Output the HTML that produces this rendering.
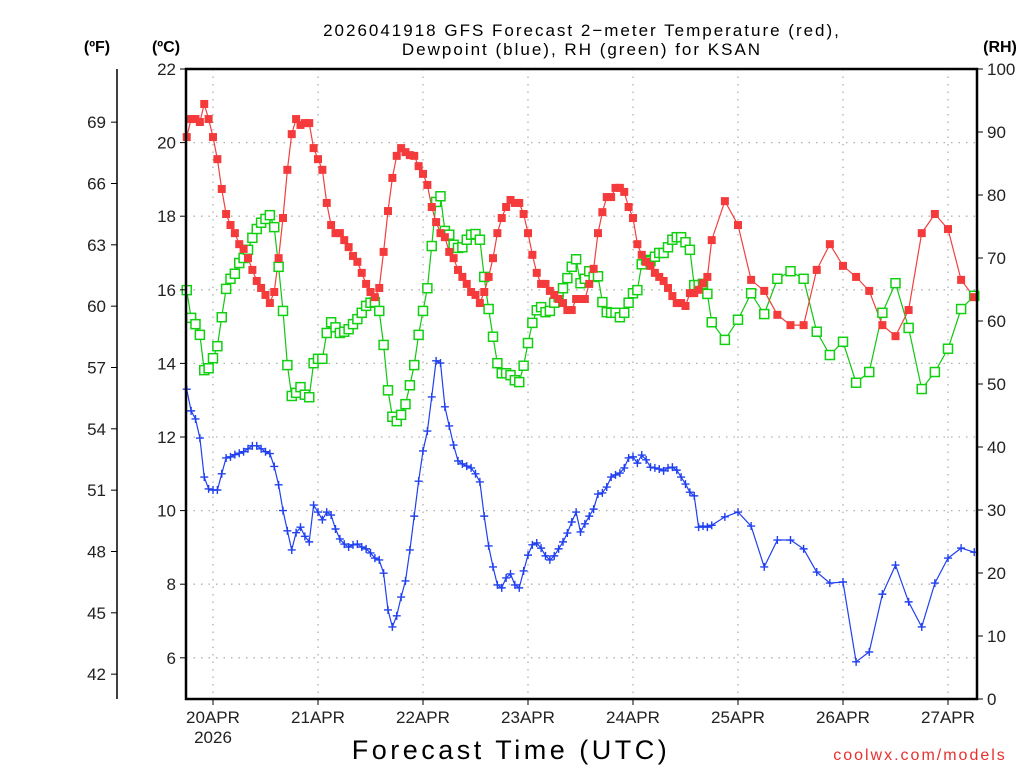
<!DOCTYPE html>
<html><head><meta charset="utf-8"><style>
body{margin:0;background:#fff;}
svg{display:block;font-family:"Liberation Sans",sans-serif;}
</style></head><body>
<svg id="chart" width="1024" height="768" viewBox="0 0 1024 768" xmlns="http://www.w3.org/2000/svg">
<rect x="0" y="0" width="1024" height="768" fill="#fff"/>
<g id="grid"></g>
<g id="series"></g>
<g id="axes"></g>
<text x="582" y="36" text-anchor="middle" font-size="17" letter-spacing="2" fill="#000">2026041918 GFS Forecast 2−meter Temperature (red),</text>
<text x="582" y="55" text-anchor="middle" font-size="17" letter-spacing="2" fill="#000">Dewpoint (blue), RH (green) for KSAN</text>
<text x="97" y="52" text-anchor="middle" font-size="16" font-weight="bold">(ºF)</text>
<text x="166" y="52" text-anchor="middle" font-size="16" font-weight="bold">(ºC)</text>
<text x="1000" y="52" text-anchor="middle" font-size="16" font-weight="bold">(RH)</text>
<text x="511" y="759" text-anchor="middle" font-size="27" letter-spacing="3.5">Forecast Time (UTC)</text>
<text x="920" y="760" text-anchor="middle" font-size="16" fill="#e83030" letter-spacing="2">coolwx.com/models</text>
</svg>
<script>
const hours=[-6,-5,-4,-3,-2,-1,0,1,2,3,4,5,6,7,8,9,10,11,12,13,14,15,16,17,18,19,20,21,22,23,24,25,26,27,28,29,30,31,32,33,34,35,36,37,38,39,40,41,42,43,44,45,46,47,48,49,50,51,52,53,54,55,56,57,58,59,60,61,62,63,64,65,66,67,68,69,70,71,72,73,74,75,76,77,78,79,80,81,82,83,84,85,86,87,88,89,90,91,92,93,94,95,96,97,98,99,100,101,102,103,104,105,106,107,108,109,110,111,112,113,114,117,120,123,126,129,132,135,138,141,144,147,150,153,156,159,162,165,168,171,174];
const tempC=[20.15,20.64,20.64,20.56,21.05,20.64,20.15,19.55,18.74,18.06,17.76,17.54,17.24,17.11,16.86,16.54,16.24,16.05,15.86,15.64,15.94,16.86,17.95,19.26,20.23,20.64,20.48,20.53,20.53,19.85,19.55,19.26,18.36,17.76,17.54,17.54,17.35,17.16,16.92,16.76,16.46,16.16,15.94,15.80,16.05,17.03,18.14,19.04,19.64,19.85,19.74,19.66,19.64,19.36,19.15,18.85,18.25,17.84,17.54,17.43,17.03,16.86,16.54,16.35,16.16,15.94,15.86,15.64,15.94,16.35,16.86,17.54,17.95,18.25,18.44,18.36,18.36,18.06,17.54,16.95,16.46,16.16,16.16,15.97,15.86,15.75,15.64,15.45,15.45,15.75,15.75,15.75,16.16,16.57,17.54,18.11,18.52,18.52,18.77,18.77,18.66,18.25,17.95,17.24,16.95,16.76,16.65,16.46,16.35,16.24,16.05,15.83,15.64,15.64,15.56,15.91,15.91,16.0,16.18,16.35,17.35,18.41,17.76,16.27,15.97,15.32,15.04,15.04,16.54,17.24,16.65,16.35,15.97,15.04,14.74,15.45,17.54,18.06,17.65,16.27,15.80];
const dewC=[13.30,12.71,12.49,11.97,10.91,10.59,10.56,10.56,11.0,11.43,11.46,11.52,11.56,11.6,11.68,11.76,11.76,11.68,11.6,11.55,11.2,10.7,10.0,9.45,8.93,9.4,9.55,9.3,9.15,10.15,9.96,9.75,9.96,9.88,9.50,9.23,9.09,9.01,9.07,9.09,9.01,8.96,8.85,8.71,8.66,8.30,7.30,6.84,7.14,7.65,8.09,8.93,9.85,10.80,11.62,12.16,13.09,14.07,14.01,12.82,12.30,11.78,11.35,11.27,11.21,11.16,11.0,10.78,9.85,9.04,8.47,7.98,7.90,8.17,8.28,7.98,7.90,8.36,8.79,9.07,9.12,8.98,8.77,8.66,8.77,8.96,9.15,9.39,9.69,9.96,9.42,9.64,9.85,10.04,10.45,10.48,10.64,10.91,10.97,11.02,11.16,11.43,11.46,11.29,11.51,11.38,11.18,11.16,11.13,11.08,11.16,11.18,11.10,10.91,10.72,10.5,10.40,9.55,9.58,9.55,9.6,9.83,9.96,9.58,8.47,9.20,9.20,8.96,8.33,8.03,8.06,5.89,6.16,7.73,8.52,7.52,6.84,8.03,8.71,8.98,8.87];
const rh=[64.9,60.5,59.5,57.8,52.2,52.5,54.1,56.0,60.6,65.1,66.7,67.5,69.2,70.0,71.3,73.2,74.6,75.6,76.2,76.8,74.9,68.6,61.6,53.0,48.1,48.6,49.5,48.3,47.9,53.3,54.0,54.0,58.1,59.8,59.0,58.1,58.3,58.7,59.5,60.3,61.3,62.4,62.9,63.0,61.6,56.2,49.0,44.8,44.1,45.1,46.8,49.8,53.0,57.8,61.6,65.2,71.9,78.9,79.8,74.3,73.7,72.1,71.6,71.7,72.9,73.7,73.8,72.9,67.0,61.9,57.5,53.3,51.7,51.7,51.4,50.6,50.3,52.9,56.5,59.7,61.7,62.2,61.4,61.6,62.9,63.8,65.2,66.8,68.6,69.8,66.0,66.7,67.9,67.0,67.1,63.0,61.4,61.3,61.3,60.6,61.3,62.9,64.4,64.9,69.0,69.7,69.5,70.2,70.8,70.8,71.7,72.9,73.3,73.3,72.5,71.3,65.7,65.7,65.9,64.3,59.8,57.0,60.2,64.4,61.1,66.7,67.9,66.7,58.3,54.6,56.7,50.2,51.9,61.3,66.0,58.9,49.2,51.9,55.6,61.9,64.0];
const dayLabels=["20APR","21APR","22APR","23APR","24APR","25APR","26APR","27APR"];
const celsiusTicks=[6,8,10,12,14,16,18,20,22];
const fahrenheitTicks=[42,45,48,51,54,57,60,63,66,69];
const rhTicks=[0,10,20,30,40,50,60,70,80,90,100];

const NS="http://www.w3.org/2000/svg";
const L=186,R=977,T=69,B=699;
const hMin=-6.17,hMax=174.63;
function xScale(h){return L+(h-hMin)/(hMax-hMin)*(R-L);}
const cMax=22,cMin=22-(B-T)/36.8;
function yC(c){return T+(cMax-c)/(cMax-cMin)*(B-T);}
function yRH(v){return B-v/100*(B-T);}
function yF(f){return yC((f-32)*5/9);}
function mk(tag,attrs,parent){const e=document.createElementNS(NS,tag);for(const k in attrs)e.setAttribute(k,attrs[k]);parent.appendChild(e);return e;}
const grid=document.getElementById('grid'),series=document.getElementById('series'),axes=document.getElementById('axes');

celsiusTicks.forEach(c=>{if(c===22)return;const y=yC(c);
 const g=mk('line',{x1:L,x2:R,y1:y,y2:y,stroke:'#b0b0b0','stroke-width':1.3,'stroke-dasharray':'1.5,6'},grid);
 
 });
dayLabels.forEach((d,i)=>{const x=xScale(i*24);
 const g=mk('line',{x1:x,x2:x,y1:T,y2:B,stroke:'#b0b0b0','stroke-width':1.3,'stroke-dasharray':'1.5,6'},grid);
 
 });

function poly(vals,yf,color,name){
 const pts=hours.map((h,i)=>xScale(h).toFixed(1)+','+yf(vals[i]).toFixed(1)).join(' ');
 const p=mk('polyline',{points:pts,fill:'none',stroke:color,'stroke-width':1.2},series);
 
 
}
poly(rh,yRH,'#10c810','rh-line');
poly(tempC,yC,'#f04040','temperature-line');
poly(dewC,yC,'#2040f0','dewpoint-line');
hours.forEach((h,i)=>{const x=xScale(h),y=yRH(rh[i]);
 const m=mk('rect',{x:x-4.5,y:y-4.5,width:9,height:9,fill:'#fff',stroke:'#10d010','stroke-width':1.5},series);
 
 });
hours.forEach((h,i)=>{const x=xScale(h),y=yC(tempC[i]);
 const m=mk('rect',{x:x-4,y:y-4,width:8,height:8,fill:'#f43a3a'},series);
 
 });
hours.forEach((h,i)=>{const x=xScale(h),y=yC(dewC[i]);
 const m=mk('path',{d:`M${x-4},${y}H${x+4}M${x},${y-4}V${y+4}`,stroke:'#2040f0','stroke-width':1.4,fill:'none'},series);
 
 });

const fr=mk('rect',{x:L,y:T,width:R-L,height:B-T,fill:'none',stroke:'#000','stroke-width':2.5},axes);


celsiusTicks.forEach(c=>{const y=yC(c);
 const t=mk('line',{x1:L-6,x2:L,y1:y,y2:y,stroke:'#000','stroke-width':1},axes);
 
 
 const tx=mk('text',{x:L-10,y:y+6,'text-anchor':'end','font-size':17,fill:'#222'},axes);
 tx.textContent=c;
 
 });
const fl=mk('line',{x1:117,x2:117,y1:T,y2:B,stroke:'#000','stroke-width':1.5},axes);


fahrenheitTicks.forEach(f=>{const y=yF(f);
 const t=mk('line',{x1:111,x2:117,y1:y,y2:y,stroke:'#000','stroke-width':1},axes);
 
 
 const tx=mk('text',{x:106,y:y+6,'text-anchor':'end','font-size':17,fill:'#222'},axes);
 tx.textContent=f;
 
 });
rhTicks.forEach(v=>{const y=yRH(v);
 const t=mk('line',{x1:R,x2:R+6,y1:y,y2:y,stroke:'#000','stroke-width':1},axes);
 
 
 const tx=mk('text',{x:R+10,y:y+6,'text-anchor':'start','font-size':17,fill:'#222'},axes);
 tx.textContent=v;
 
 });
dayLabels.forEach((d,i)=>{const x=xScale(i*24);
 const t=mk('line',{x1:x,x2:x,y1:B,y2:B+6,stroke:'#000','stroke-width':1},axes);
 
 
 const tx=mk('text',{x:x,y:B+24,'text-anchor':'middle','font-size':17,fill:'#222'},axes);
 tx.textContent=d;
 
 });
const yr=mk('text',{x:xScale(0),y:B+44,'text-anchor':'middle','font-size':17,fill:'#222'},axes);
yr.textContent='2026';


</script>
</body></html>
